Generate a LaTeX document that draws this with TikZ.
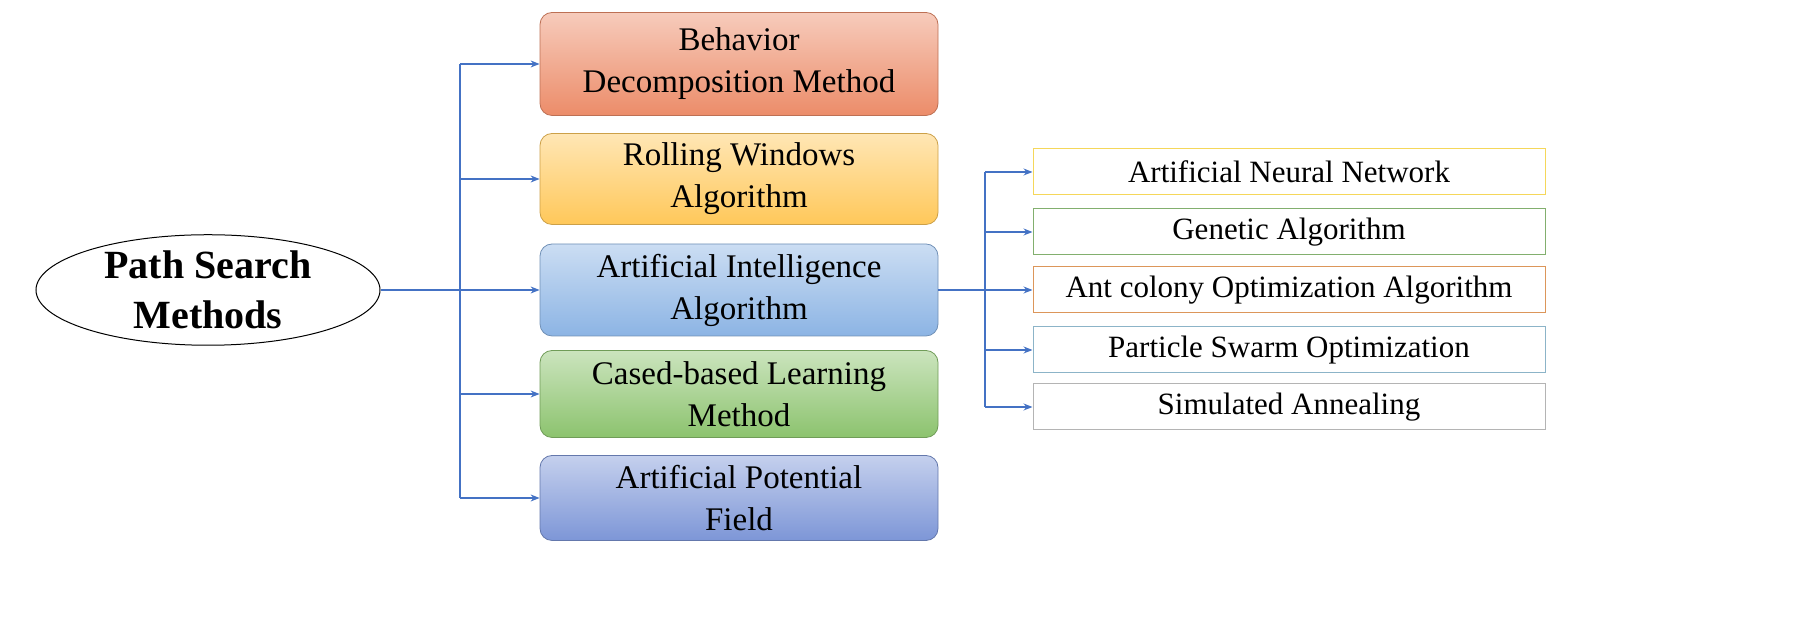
\documentclass[tikz,border=0pt]{standalone}
\usepackage{fontspec}
\setmainfont{Liberation Serif}
\usetikzlibrary{positioning}
\usetikzlibrary{arrows.meta,shapes.geometric}

\definecolor{lnblue}{RGB}{68,114,196}
\definecolor{cA}{RGB}{236,140,105}
\definecolor{cB}{RGB}{255,200,90}
\definecolor{cC}{RGB}{140,180,228}
\definecolor{cD}{RGB}{140,195,110}
\definecolor{cE}{RGB}{125,150,215}
\definecolor{bA}{RGB}{245,215,90}
\definecolor{bB}{RGB}{130,175,110}
\definecolor{bC}{RGB}{220,150,90}
\definecolor{bD}{RGB}{140,180,200}
\definecolor{bE}{RGB}{180,180,180}

\begin{document}
\begin{tikzpicture}[x=1pt,y=1pt,>={Stealth[length=9pt,width=7pt]},
	link/.style={draw=lnblue,line width=1.2pt},
	big box/.style={rounded corners=12pt,draw=#1!80!black,line width=0.8pt,minimum width=398pt,minimum height=88pt,align=center,font=\fontsize{33}{42}\selectfont,top color=#1!45!white,bottom color=#1},
	small box/.style={draw=#1,line width=1pt,fill=white,minimum width=512pt,minimum height=46pt,font=\fontsize{31}{34}\selectfont}]

	\useasboundingbox (0,0) rectangle (1808,644);

	% root
	\node[ellipse,draw,line width=1pt,minimum width=344pt,minimum height=110pt,inner sep=0pt,align=center,font=\fontsize{40}{50}\selectfont\bfseries] (root) at (208,354) {Path Search\\Methods};

	% methods
	\node[big box=cA,minimum height=103pt] (m1) at (739,580) {Behavior\\Decomposition Method};
	\node[big box=cB,minimum height=91pt] (m2) at (739,465) {Rolling Windows\\Algorithm};
	\node[big box=cC,minimum height=92pt] (m3) at (739,354) {Artificial Intelligence\\Algorithm};
	\node[big box=cD,minimum height=87pt] (m4) at (739,250) {Cased-based Learning\\Method};
	\node[big box=cE,minimum height=85pt] (m5) at (739,146) {Artificial Potential\\Field};

	% algorithms
	\node[small box=bA] (a1) at (1289,472) {Artificial Neural Network};
	\node[small box=bB] (a2) at (1289,412) {Genetic Algorithm};
	\node[small box=bC] (a3) at (1289,354) {Ant colony Optimization Algorithm};
	\node[small box=bD] (a4) at (1289,294) {Particle Swarm Optimization};
	\node[small box=bE] (a5) at (1289,237) {Simulated Annealing};

	% connectors
	\coordinate (j1) at (460,354);
	\coordinate (j2) at (985,354);
	\draw[link] (root) -- (j1);
	\draw[link] (j1 |- m1) -- (j1 |- m5);
	\foreach \m in {m1,m2,m3,m4,m5}
		\draw[link,->] (j1 |- \m) -- (\m.west);
	\draw[link] (m3) -- (j2);
	\draw[link] (j2 |- a1) -- (j2 |- a5);
	\foreach \a in {a1,a2,a3,a4,a5}
		\draw[link,->] (j2 |- \a) -- (\a.west);
\end{tikzpicture}
\end{document}
